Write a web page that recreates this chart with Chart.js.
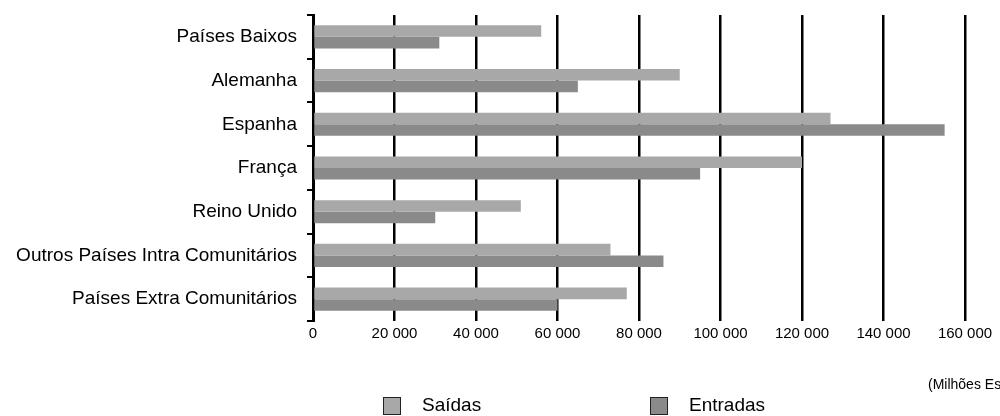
<!DOCTYPE html>
<html>
<head>
<meta charset="utf-8">
<script src="https://cdn.jsdelivr.net/npm/chart.js@4.4.1/dist/chart.umd.min.js"></script>
<style>
  html, body { margin: 0; padding: 0; background: #fff; }
  #wrap { width: 1000px; height: 416px; position: relative; }
</style>
</head>
<body>
<div id="wrap"><canvas id="chart"></canvas></div>
<script>
// Categories (top to bottom)
const categories = [
    'Países Baixos',
    'Alemanha',
    'Espanha',
    'França',
    'Reino Unido',
    'Outros Países Intra Comunitários',
    'Países Extra Comunitários'
];

// Milhões de escudos
const saidas   = [56000, 90000, 127000, 120000, 51000, 73000, 77000];
const entradas = [31000, 65000, 155000, 95000, 30000, 86000, 60000];

const xTicks = [0, 20000, 40000, 60000, 80000, 100000, 120000, 140000, 160000];
const unitNote = '(Milhões Escudos)';

const FONT = "'Liberation Sans', Arial, sans-serif";

// Legend + unit note drawn under the plot
const bottomNotes = {
    id: 'bottomNotes',
    afterDraw(chart) {
        const ctx = chart.ctx;
        ctx.save();
        ctx.textBaseline = 'middle';
        ctx.fillStyle = '#000';
        ctx.font = '14px ' + FONT;
        ctx.fillText(unitNote, 928, 385);

        const spots = [383, 650];
        ctx.font = '19px ' + FONT;
        chart.data.datasets.forEach((ds, i) => {
            const x = spots[i];
            ctx.fillStyle = ds.backgroundColor;
            ctx.fillRect(x, 397, 18, 18);
            ctx.strokeStyle = '#222';
            ctx.lineWidth = 1;
            ctx.strokeRect(x + 0.5, 397.5, 17, 17);
            ctx.fillStyle = '#000';
            ctx.fillText(ds.label, x + 39, 406);
        });
        ctx.restore();
    }
};

new Chart(document.getElementById('chart'), {
    type: 'bar',
    data: {
        labels: categories,
        datasets: [{
            label: 'Saídas',
            data: saidas,
            backgroundColor: '#a8a8a8',
            barPercentage: 1,
            categoryPercentage: 0.53
        }, {
            label: 'Entradas',
            data: entradas,
            backgroundColor: '#8a8a8a',
            barPercentage: 1,
            categoryPercentage: 0.53
        }]
    },
    options: {
        indexAxis: 'y',
        responsive: true,
        maintainAspectRatio: false,
        animation: false,
        layout: {
            padding: { left: 0, right: 35, top: 15, bottom: 69 }
        },
        plugins: {
            legend: { display: false },
            tooltip: { enabled: false }
        },
        scales: {
            x: {
                min: 0,
                max: 160000,
                afterBuildTicks: (scale) => {
                    scale.ticks = xTicks.map(v => ({ value: v }));
                },
                grid: {
                    color: '#000',
                    lineWidth: 2.5,
                    drawTicks: false
                },
                border: { display: false },
                ticks: {
                    color: '#000',
                    padding: 4,
                    maxRotation: 0,
                    font: { family: FONT, size: 15 },
                    callback: (v) => v === 0 ? '0' : String(v).replace(/\B(?=(\d{3})+(?!\d))/g, ' ')
                }
            },
            y: {
                afterFit: (scale) => {
                    scale.width = 313;
                    scale.paddingTop = 0;
                    scale.paddingBottom = 0;
                },
                grid: {
                    display: true,
                    drawOnChartArea: false,
                    drawTicks: true,
                    tickLength: 6,
                    color: '#000',
                    lineWidth: 2
                },
                border: { display: true, color: '#000', width: 3 },
                ticks: {
                    color: '#000',
                    padding: 10,
                    font: { family: FONT, size: 19 }
                }
            }
        }
    },
    plugins: [bottomNotes]
});
</script>
</body>
</html>
